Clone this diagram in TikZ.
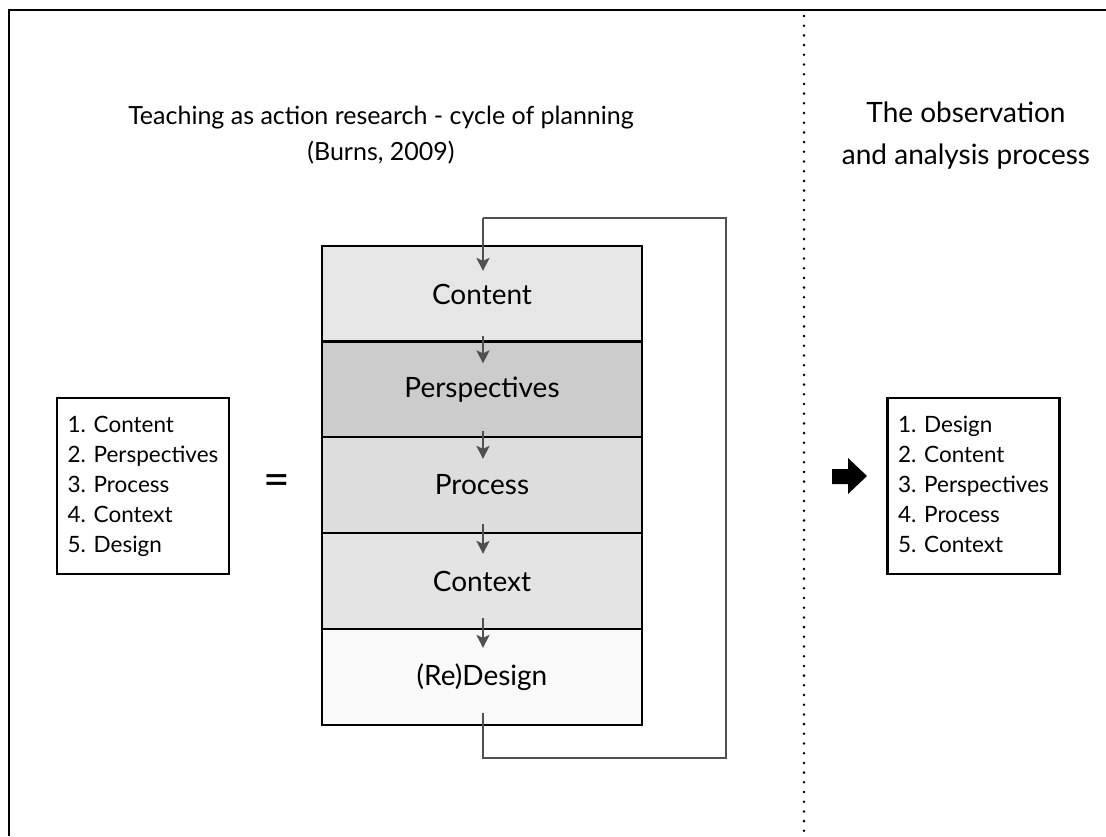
\documentclass[tikz,border=0pt]{standalone}
\usepackage{fontspec}
\setmainfont{Lato}
\usetikzlibrary{arrows.meta,calc}
\definecolor{cA}{HTML}{E6E6E6}
\definecolor{cB}{HTML}{CCCCCC}
\definecolor{cC}{HTML}{DDDDDD}
\definecolor{cD}{HTML}{E4E4E4}
\definecolor{cE}{HTML}{F9F9F9}
\definecolor{flow}{HTML}{505050}
\tikzset{
  row/.style={draw=black, line width=2.2pt, minimum width=320pt, minimum height=96pt, inner sep=0pt, font=\fontsize{28}{32}\selectfont},
  listbox/.style={draw=black, line width=2.2pt, minimum width=172pt, minimum height=176pt, inner sep=0pt, font=\fontsize{22.5}{30}\selectfont},
  flowarrow/.style={draw=flow, line width=2.8pt, -{Stealth[length=13pt,width=13pt,inset=3pt]}},
  loopline/.style={draw=flow, line width=2.8pt},
}
\begin{document}
\begin{tikzpicture}[x=1pt,y=-1pt]
\useasboundingbox (0,0) rectangle (1106,836);
% frame
\draw[line width=2.8pt] (9,836) -- (9,10) -- (1106,10);
% dotted separator
\draw[line width=2.8pt, dash pattern=on 0pt off 9.7pt, line cap=round] (804,16) -- (804,836);
% titles
\node[align=center, font=\fontsize{25}{36}\selectfont] (t1) at (381,135) {Teaching as action research - cycle of planning\\(Burns, 2009)};
\node[align=center, font=\fontsize{28}{42}\selectfont] (t2) at (966,136) {The observation\\and analysis process};
% stack
\node[row, fill=cA] (r1) at (482,294) {Content};
\node[row, fill=cB] (r2) at (482,389.5) {Perspectives};
\node[row, fill=cC] (r3) at (482,485) {Process};
\node[row, fill=cD] (r4) at (482,581) {Context};
\node[row, fill=cE] (r5) at (482,677) {(Re)Design};
\coordinate (lt) at (483,218);
\coordinate (rt) at (726,218);
\coordinate (rb) at (726,758);
\coordinate (lb) at (483,758);
% inner arrows
\draw[flowarrow] ($(r1.south)+(1,-7)$) -- ($(r2.north)+(1,23)$);
\draw[flowarrow] ($(r2.south)+(1,-8)$) -- ($(r3.north)+(1,23)$);
\draw[flowarrow] ($(r3.south)+(1,-10)$) -- ($(r4.north)+(1,22)$);
\draw[flowarrow] ($(r4.south)+(1,-12)$) -- ($(r5.north)+(1,20)$);
% loop
\draw[loopline, line join=miter] ($(r5.south)+(1,-13)$) -- (lb) -- (rb) -- (rt) -- (lt);
\draw[flowarrow] (lt) -- ($(r1.north)+(1,26)$);
% lists
\node[listbox] (l1) at (143,486) {\raisebox{-4pt}{\begin{tabular}{@{}l@{}}1. Content\\2. Perspectives\\3. Process\\4. Context\\5. Design\end{tabular}}};
\node[listbox] (l2) at (973.5,486) {\raisebox{-3pt}{\begin{tabular}{@{}l@{}}1. Design\\2. Content\\3. Perspectives\\4. Process\\5. Context\end{tabular}}};
% equals
\node[font=\fontsize{46}{46}\selectfont] (eq) at (277,485) {=};
% block arrow
\fill (832,469) -- (848,469) -- (848,458) -- (867,476) -- (848,494) -- (848,484) -- (832,484) -- cycle;
\end{tikzpicture}
\end{document}
